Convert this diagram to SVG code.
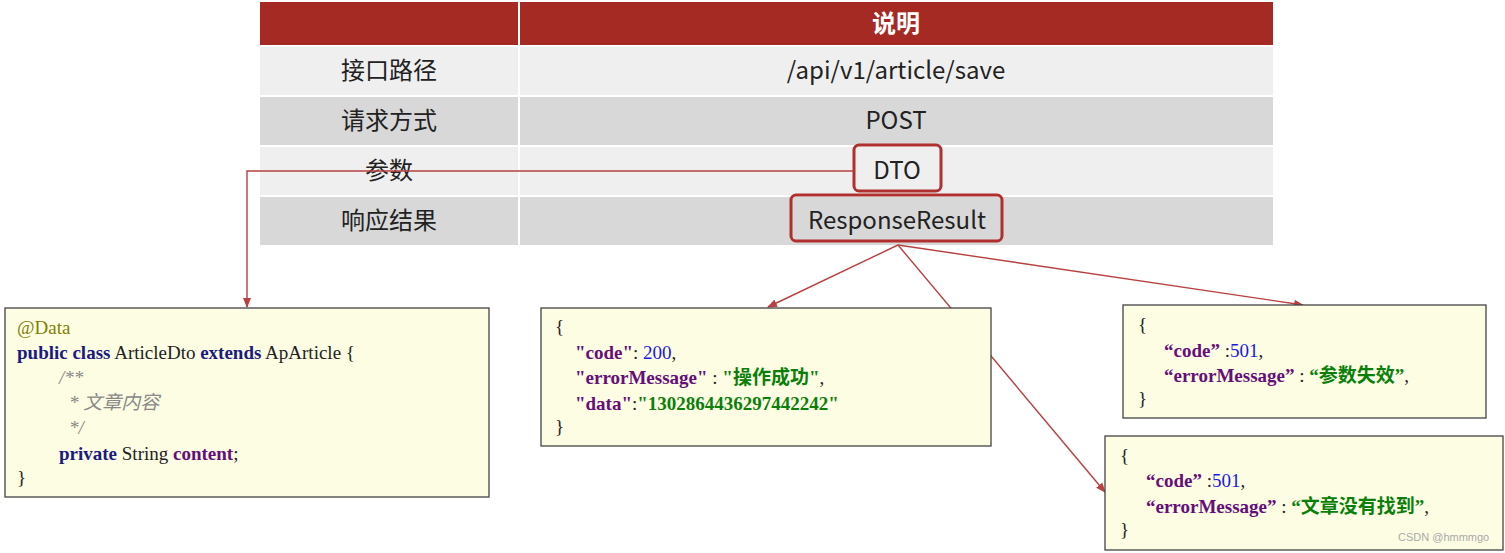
<svg xmlns="http://www.w3.org/2000/svg" width="1505" height="553" viewBox="0 0 1505 553">
<style>
.h{font-family:"Noto Sans CJK SC","Noto Sans",sans-serif;font-size:24px;fill:#222;text-anchor:middle}
.ht{font-family:"Noto Sans CJK SC",sans-serif;font-size:24px;font-weight:bold;fill:#fff;text-anchor:middle}
.box{fill:#FDFDE4;stroke:#444;stroke-width:1.3}
.c{font-family:"Liberation Serif","Noto Sans CJK SC",serif;font-size:19px;fill:#222}
.k{fill:#1A1A80;font-weight:bold}
.p{fill:#660E7A;font-weight:bold}
.s{fill:#0A7F0A;font-weight:bold}
.n{fill:#1A1AE0}
.a{fill:#808000}
.cm{fill:#888;font-style:italic}
.hl{fill:none;stroke:#B03030;stroke-width:3}
.ln{stroke:#B84040;stroke-width:1.4;fill:none}
</style>
<defs><marker id="ar" markerWidth="10" markerHeight="10" refX="9" refY="5" orient="auto" markerUnits="userSpaceOnUse"><path d="M0,1 L10,5 L0,9 z" fill="#B84040"/></marker></defs>
<g id="table">
<rect x="260" y="2" width="1013" height="43" fill="#A52A24"/>
<rect x="260" y="47" width="1013" height="48" fill="#EFEFEF"/>
<rect x="260" y="97" width="1013" height="48" fill="#D8D8D8"/>
<rect x="260" y="147" width="1013" height="48" fill="#EFEFEF"/>
<rect x="260" y="197" width="1013" height="48" fill="#D8D8D8"/>
<line x1="519" y1="2" x2="519" y2="245" stroke="#fff" stroke-width="2"/>
<text class="ht" x="896" y="32">说明</text>
<text class="h" x="389" y="79">接口路径</text>
<text class="h" x="896" y="79">/api/v1/article/save</text>
<text class="h" x="389" y="129">请求方式</text>
<text class="h" x="896" y="129">POST</text>
<text class="h" x="389" y="179">参数</text>
<text class="h" x="897" y="179">DTO</text>
<text class="h" x="389" y="229">响应结果</text>
<text class="h" x="897" y="229">ResponseResult</text>
<rect class="hl" x="854" y="145" width="87" height="46" rx="5"/>
<rect class="hl" x="791" y="195" width="211" height="46" rx="5"/>
</g>
<g id="connectors">
<polyline class="ln" points="854,171 247,171 247,307" marker-end="url(#ar)"/>
<line class="ln" x1="898" y1="245" x2="768" y2="307" marker-end="url(#ar)"/>
<line class="ln" x1="898" y1="245" x2="1303" y2="305" marker-end="url(#ar)"/>
<line class="ln" x1="898" y1="245" x2="1105" y2="492" marker-end="url(#ar)"/>
</g>
<g id="dto">
<rect class="box" x="5" y="308" width="484" height="189"/>
<text class="c" x="17" y="334"><tspan class="a">@Data</tspan></text>
<text class="c" x="17" y="359"><tspan class="k">public class</tspan> ArticleDto <tspan class="k">extends</tspan> ApArticle {</text>
<text class="c cm" x="59" y="384">/**</text>
<text class="c cm" x="69" y="409">* 文章内容</text>
<text class="c cm" x="69" y="434">*/</text>
<text class="c" x="59" y="460"><tspan class="k">private</tspan> String <tspan class="p">content</tspan>;</text>
<text class="c" x="17" y="484">}</text>
</g>
<g id="ok">
<rect class="box" x="541" y="308" width="450" height="138"/>
<text class="c" x="555" y="333">{</text>
<text class="c" x="575" y="359"><tspan class="p">"code"</tspan>: <tspan class="n">200</tspan>,</text>
<text class="c" x="575" y="384"><tspan class="p">"errorMessage"</tspan> : <tspan class="s">"操作成功"</tspan>,</text>
<text class="c" x="575" y="410"><tspan class="p">"data"</tspan>:<tspan class="s">"1302864436297442242"</tspan></text>
<text class="c" x="555" y="433">}</text>
</g>
<g id="err1">
<rect class="box" x="1123" y="305" width="363" height="113"/>
<text class="c" x="1138" y="331">{</text>
<text class="c" x="1164" y="357"><tspan class="p">“code”</tspan> :<tspan class="n">501</tspan>,</text>
<text class="c" x="1164" y="382"><tspan class="p">“errorMessage”</tspan> : <tspan class="s">“参数失效”</tspan>,</text>
<text class="c" x="1138" y="405">}</text>
</g>
<g id="err2">
<rect class="box" x="1105" y="436" width="398" height="114"/>
<text class="c" x="1120" y="462">{</text>
<text class="c" x="1146" y="487"><tspan class="p">“code”</tspan> :<tspan class="n">501</tspan>,</text>
<text class="c" x="1146" y="513"><tspan class="p">“errorMessage”</tspan> : <tspan class="s">“文章没有找到”</tspan>,</text>
<text class="c" x="1120" y="536">}</text>
<text x="1398" y="541" font-family="Liberation Sans,sans-serif" font-size="11" fill="#aaa">CSDN @hmmmgo</text>
</g>
</svg>
